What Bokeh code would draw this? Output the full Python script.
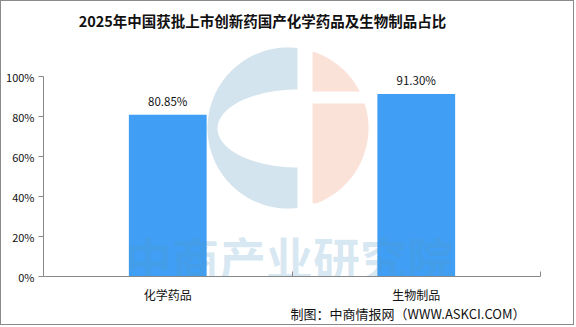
import numpy as np
from bokeh.plotting import figure
from bokeh.models import Range1d, FixedTicker, PrintfTickFormatter, Label, LabelSet, ColumnDataSource
from bokeh.core.properties import value
from bokeh.embed import file_html
from bokeh.resources import INLINE

# ---- data ----
categories = ["化学药品", "生物制品"]
shares = [80.85, 91.30]
share_labels = ["80.85%", "91.30%"]
y_ticks = [0, 20, 40, 60, 80, 100]
title_text = "2025年中国获批上市创新药国产化学药品及生物制品占比"
source_text = "制图：中商情报网（WWW.ASKCI.COM）"
watermark_text = "中商产业研究院"

FONT = "Noto Sans CJK SC"
x_pos = [i + 0.5 for i in range(len(categories))]

# frame spans page x 43..575 and page y 1..326 (1 x-unit = 248.5px, 1 y-unit = 2px)
p = figure(width=574, height=325, output_backend="svg", toolbar_location=None,
           x_range=Range1d(0, 532 / 248.5), y_range=Range1d(-25, 137.5),
           min_border_left=42, min_border_right=0, min_border_top=0, min_border_bottom=0)
p.styles = {"border": "1px solid #8a8a8a"}
p.outline_line_color = None
p.xgrid.visible = False
p.ygrid.visible = False
p.background_fill_color = "white"
p.border_fill_color = "white"

def px(xp):
    return (xp - 43) / 248.5

def py(yp):
    return (276 - yp) / 2

# ---- watermark logo (decoration) ----
cx, cy, r = 287.5, 127.5, 80.5
xcut = 297.0
a0 = np.arctan2(-np.sqrt(r**2 - (xcut - cx) ** 2), xcut - cx)
a1 = np.arctan2(np.sqrt(r**2 - (xcut - cx) ** 2), xcut - cx)
angs = np.linspace(a0, a0 - (2 * np.pi - (a1 - a0)), 80)
bx = list(cx + r * np.cos(angs))
by = list(cy + r * np.sin(angs))
ea, eb, ecy = 80.0, 39.0, 128.0
t = np.linspace(np.pi / 2, 3 * np.pi / 2, 60)
bx += list(xcut + ea * np.cos(t))
by += list(ecy + eb * np.sin(t))
p.patch([px(v) for v in bx], [py(v) for v in by], color="#d3e4ee", line_color=None)

def peach(y0, y1):
    ys = np.linspace(y0, y1, 60)
    ys = ys[np.abs(ys - cy) < r]
    xr = cx + np.sqrt(np.maximum(r**2 - (ys - cy) ** 2, 0))
    ok = xr > 312
    ys, xr = ys[ok], xr[ok]
    xs = list(xr) + [312, 312]
    yy = list(ys) + [ys[-1], ys[0]]
    return [px(v) for v in xs], [py(v) for v in yy]

for (a, b) in [(cy - r, 91), (103, cy + r)]:
    xs, ys = peach(a, b)
    p.patch(xs, ys, color="#fbe2d8", line_color=None)

# ---- bars ----
src = ColumnDataSource(dict(x=x_pos, y=shares, lab=share_labels))
p.vbar(x="x", top="y", width=0.313, bottom=0, source=src, color="#409ff4", line_color=None)

# watermark text on top of bars (clipped at the axis line)
p.text(x=[px(289)], y=[py(256)], text=[watermark_text], text_font=value(FONT),
       text_font_style="bold", text_font_size="47px", text_align="center",
       text_baseline="middle", text_color="#5197c4", text_alpha=0.22)
p.quad(left=[px(30)], right=[px(575)], bottom=[py(330)], top=[0], color="white", line_color=None)

p.add_layout(LabelSet(x="x", y="y", text="lab", source=src, y_offset=14,
                      text_align="center", text_baseline="middle",
                      text_font=value(FONT), text_font_size="11.5px", text_color="#111111"))

# ---- axes ----
yax = p.yaxis[0]
yax.bounds = (0, 100)
yax.ticker = FixedTicker(ticks=y_ticks)
yax.formatter = PrintfTickFormatter(format="%d%%")
yax.axis_line_color = "#888888"
yax.major_tick_line_color = "#888888"
yax.major_tick_out = 5
yax.major_tick_in = 0
yax.minor_tick_line_color = None
yax.major_label_standoff = 4
yax.major_label_text_font = FONT
yax.major_label_text_font_size = "11px"
yax.major_label_text_color = "#111111"

xax = p.xaxis[0]
xax.fixed_location = 0
xax.bounds = (0, 2)
xax.ticker = FixedTicker(ticks=x_pos, minor_ticks=[0, 1, 2])
xax.major_label_overrides = {x: c for x, c in zip(x_pos, categories)}
xax.axis_line_color = "#888888"
xax.major_tick_line_color = None
xax.minor_tick_line_color = "#888888"
xax.minor_tick_in = 5
xax.minor_tick_out = 0
xax.major_label_standoff = 3
xax.major_label_text_font = FONT
xax.major_label_text_font_size = "12px"
xax.major_label_text_color = "#111111"

# ---- title and source ----
p.add_layout(Label(x=px(262), y=py(20), text=title_text, text_align="center",
                   text_baseline="middle", text_font=FONT, text_font_style="bold",
                   text_font_size="14.5px", text_color="#111111"))
p.add_layout(Label(x=px(525), y=py(313), text=source_text, text_align="right",
                   text_baseline="middle", text_font=FONT,
                   text_font_size="13px", text_color="#111111"))

open("out.html", "w").write(file_html(p, INLINE))
